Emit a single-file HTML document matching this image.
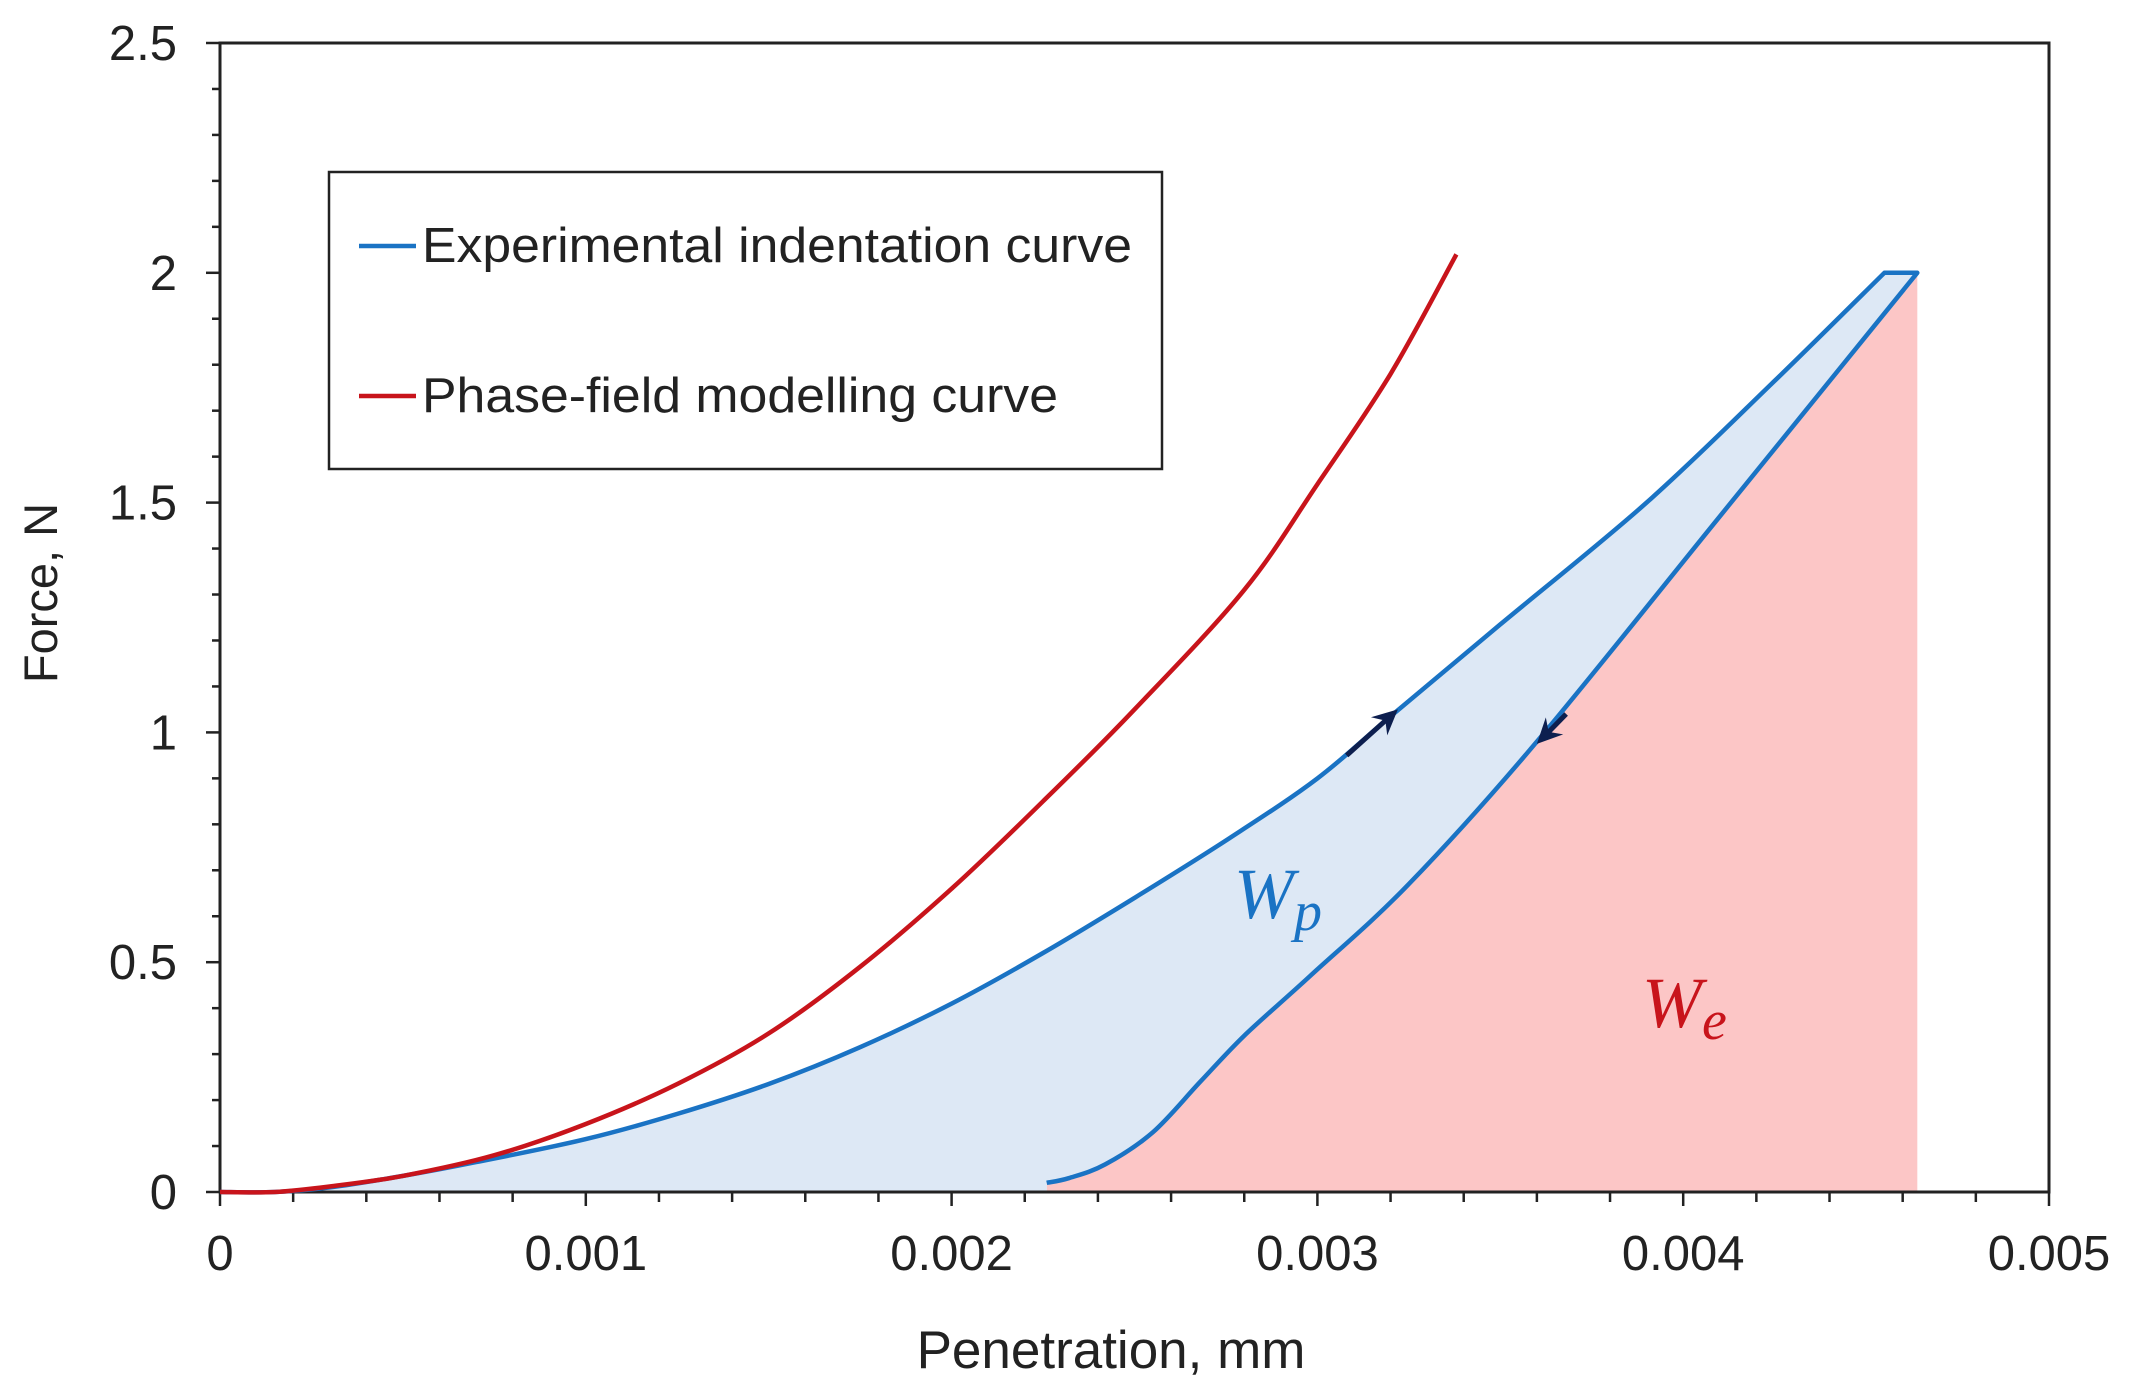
<!DOCTYPE html>
<html><head><meta charset="utf-8"><style>
html,body{margin:0;padding:0;background:#fff;}
svg{display:block;font-family:"Liberation Sans",sans-serif;}
</style></head><body>
<svg id="s" width="2139" height="1398" viewBox="0 0 2139 1398" xmlns="http://www.w3.org/2000/svg"></svg>
<script>
const X0=220,X1=2049,Y0=1192,Y1=43;
const px=x=>X0+(X1-X0)*x/0.005, py=y=>Y0-(Y0-Y1)*y/2.5;
const load=[[0,0],[0.00015,0],[0.0003,0.01],[0.0005,0.035],[0.0007,0.065],[0.001,0.115],[0.00125,0.17],[0.0015,0.235],[0.00175,0.315],[0.002,0.41],[0.00225,0.52],[0.0025,0.64],[0.00276,0.77],[0.003,0.9],[0.0032,1.035],[0.0035,1.235],[0.0039,1.5],[0.00425,1.765],[0.00455,2.0]];
const unload=[[0.00464,2.0],[0.0041,1.47],[0.0036,0.98],[0.00325,0.67],[0.00298,0.47],[0.0028,0.34],[0.00268,0.24],[0.00255,0.13],[0.00242,0.06],[0.00232,0.03],[0.00226,0.02]];
const red=[[0,0],[0.00015,0],[0.0003,0.012],[0.0005,0.035],[0.00075,0.08],[0.001,0.148],[0.00125,0.235],[0.0015,0.345],[0.00175,0.49],[0.002,0.66],[0.00225,0.85],[0.0025,1.05],[0.0028,1.31],[0.003,1.54],[0.0032,1.78],[0.00338,2.04]];
function P(a,cont){const q=a.map(p=>[px(p[0]),py(p[1])]);let d=(cont?'L':'M')+q[0][0].toFixed(1)+' '+q[0][1].toFixed(1);
for(let i=0;i<q.length-1;i++){const p0=q[Math.max(i-1,0)],p1=q[i],p2=q[i+1],p3=q[Math.min(i+2,q.length-1)];
const c1=[p1[0]+(p2[0]-p0[0])/6,p1[1]+(p2[1]-p0[1])/6],c2=[p2[0]-(p3[0]-p1[0])/6,p2[1]-(p3[1]-p1[1])/6];
d+=` C${c1[0].toFixed(1)} ${c1[1].toFixed(1)} ${c2[0].toFixed(1)} ${c2[1].toFixed(1)} ${p2[0].toFixed(1)} ${p2[1].toFixed(1)}`;}return d;}
const loadP=P(load);
const unP=` L${px(0.00464)} ${py(2)} `+P(unload,true);
let h='';
h+=`<path d="M${px(0.00464)} ${py(2)} ${P(unload,true)} L${px(0.00226)} ${Y0} L${px(0.00464)} ${Y0} Z" fill="#fcc6c6"/>`;
h+=`<path d="${loadP}${unP} L${px(0.00226)} ${Y0} Z" fill="#dde8f5"/>`;
for(let i=0;i<=25;i++){const y=py(i*0.1);const L=i%5==0?14:8;h+=`<line x1="${X0-L}" y1="${y}" x2="${X0}" y2="${y}" stroke="#222" stroke-width="2.5"/>`;}
for(let i=0;i<=25;i++){const x=px(i*0.0002);const L=i%5==0?14:10;h+=`<line x1="${x}" y1="${Y0}" x2="${x}" y2="${Y0+L}" stroke="#222" stroke-width="2.5"/>`;}
h+=`<rect x="${X0}" y="${Y1}" width="${X1-X0}" height="${Y0-Y1}" fill="none" stroke="#222" stroke-width="3"/>`;
['0','0.5','1','1.5','2','2.5'].forEach((t,i)=>{h+=`<text x="177" y="${py(i*0.5)+17}" font-size="49" text-anchor="end" fill="#222">${t}</text>`;});
['0','0.001','0.002','0.003','0.004','0.005'].forEach((t,i)=>{h+=`<text x="${px(i*0.001)}" y="1270" font-size="49" text-anchor="middle" fill="#222">${t}</text>`;});
h+=`<text x="1111" y="1368" font-size="53" text-anchor="middle" fill="#222">Penetration, mm</text>`;
h+=`<text transform="translate(57,593) rotate(-90)" font-size="47" text-anchor="middle" fill="#222">Force, N</text>`;
h+=`<path d="${loadP}${unP}" fill="none" stroke="#1a73c4" stroke-width="4.5" stroke-linejoin="round"/>`;
h+=`<path d="${P(red)}" fill="none" stroke="#c8141b" stroke-width="4.5" stroke-linejoin="round"/>`;
function arrow(x1,y1,x2,y2){const a=Math.atan2(y2-y1,x2-x1),L=28,w=0.45;
h+=`<line x1="${x1}" y1="${y1}" x2="${x2-12*Math.cos(a)}" y2="${y2-12*Math.sin(a)}" stroke="#0d1f4f" stroke-width="5"/>`;
h+=`<path d="M${x2} ${y2} L${x2-L*Math.cos(a-w)} ${y2-L*Math.sin(a-w)} L${x2-L*0.6*Math.cos(a)} ${y2-L*0.6*Math.sin(a)} L${x2-L*Math.cos(a+w)} ${y2-L*Math.sin(a+w)} Z" fill="#0d1f4f"/>`;}
arrow(px(0.00308),py(0.95),px(0.00322),py(1.05));
arrow(px(0.00368),py(1.04),px(0.0036),py(0.975));
h+=`<text x="1234" y="918" font-size="72" font-style="italic" font-family="Liberation Serif,serif" fill="#1a73c4">W<tspan font-size="56" dy="12">p</tspan></text>`;
h+=`<text x="1642" y="1027" font-size="72" font-style="italic" font-family="Liberation Serif,serif" fill="#c8141b">W<tspan font-size="56" dy="12">e</tspan></text>`;
h+=`<rect x="329" y="172" width="833" height="297" fill="#fff" stroke="#222" stroke-width="2.5"/>`;
h+=`<line x1="359" y1="246" x2="416" y2="246" stroke="#1a73c4" stroke-width="4.5"/>`;
h+=`<line x1="359" y1="396" x2="416" y2="396" stroke="#c8141b" stroke-width="4.5"/>`;
h+=`<text x="422" y="262" font-size="49" fill="#222" textLength="710" lengthAdjust="spacingAndGlyphs">Experimental indentation curve</text>`;
h+=`<text x="422" y="412" font-size="49" fill="#222" textLength="636" lengthAdjust="spacingAndGlyphs">Phase-field modelling curve</text>`;
document.getElementById('s').innerHTML=h;
</script>
</body></html>
